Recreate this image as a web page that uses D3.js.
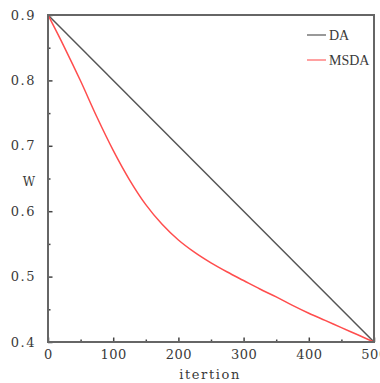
<!DOCTYPE html>
<html>
<head>
<meta charset="utf-8">
<script src="https://cdn.jsdelivr.net/npm/d3@7"></script>
<style>
  body { margin: 0; background: #fff; }
  svg text { fill: #3a3a3a; }
</style>
</head>
<body>
<figure id="chart" style="margin:0"></figure>
<script>
// data
const iterations = [0, 25, 50, 75, 100, 125, 150, 175, 200, 225, 250, 275, 300, 325, 350, 375, 400, 425, 450, 475, 500];
const msdaValues = [0.900, 0.851, 0.799, 0.744, 0.693, 0.648, 0.610, 0.580, 0.556, 0.537, 0.521, 0.507, 0.494, 0.481, 0.469, 0.456, 0.444, 0.433, 0.422, 0.411, 0.400];
const daIterations = [0, 500];
const daValues = [0.9, 0.4];
const xTicks = [0, 100, 200, 300, 400, 500];
const yTicks = [0.4, 0.5, 0.6, 0.7, 0.8, 0.9];
const seriesNames = ["DA", "MSDA"];
const seriesColors = ["#555555", "#ff4d4d"];

const width = 380, height = 383;
const margin = { top: 15, right: 6, bottom: 41, left: 48 };
const w = width - margin.left - margin.right;
const h = height - margin.top - margin.bottom;
const serif = "DejaVu Serif";

const svg = d3.select("#chart").append("svg")
  .attr("width", width)
  .attr("height", height);

const g = svg.append("g")
  .attr("transform", "translate(" + margin.left + "," + margin.top + ")");

const x = d3.scaleLinear().domain([0, 500]).range([0, w]);
const y = d3.scaleLinear().domain([0.4, 0.9]).range([h, 0]);

// minor ticks (inward)
g.append("g")
  .attr("transform", "translate(0," + h + ")")
  .call(d3.axisBottom(x).tickValues(d3.range(50, 500, 100)).tickSize(-2.5).tickFormat(""))
  .call(a => a.select(".domain").remove())
  .selectAll("line").attr("stroke", "#444").attr("stroke-width", 1.5);
g.append("g")
  .call(d3.axisLeft(y).tickValues([0.45, 0.55, 0.65, 0.75, 0.85]).tickSize(-2.5).tickFormat(""))
  .call(a => a.select(".domain").remove())
  .selectAll("line").attr("stroke", "#444").attr("stroke-width", 1.5);

// major ticks + labels
const xAxis = g.append("g")
  .attr("transform", "translate(0," + h + ")")
  .call(d3.axisBottom(x).tickValues(xTicks).tickSize(-4.5).tickPadding(17).tickFormat(d3.format("d")));
xAxis.select(".domain").remove();
xAxis.selectAll("line").attr("stroke", "#444").attr("stroke-width", 1.5);
xAxis.selectAll("text")
  .attr("font-family", serif).attr("font-size", 13)
  .style("letter-spacing", "0.5px").attr("dy", "0");

const yAxis = g.append("g")
  .call(d3.axisLeft(y).tickValues(yTicks).tickSize(-4.5).tickPadding(12).tickFormat(d3.format(".1f")));
yAxis.select(".domain").remove();
yAxis.selectAll("line").attr("stroke", "#444").attr("stroke-width", 1.5);
yAxis.selectAll("text")
  .attr("font-family", serif).attr("font-size", 13)
  .style("letter-spacing", "1.5px").attr("dy", "0.32em");

// lines
const line = d3.line().x(d => x(d[0])).y(d => y(d[1]));
g.append("path")
  .datum(daIterations.map((d, i) => [d, daValues[i]]))
  .attr("d", line)
  .attr("fill", "none")
  .attr("stroke", seriesColors[0])
  .attr("stroke-width", 1.5);
g.append("path")
  .datum(iterations.map((d, i) => [d, msdaValues[i]]))
  .attr("d", d3.line().curve(d3.curveMonotoneX).x(d => x(d[0])).y(d => y(d[1])))
  .attr("fill", "none")
  .attr("stroke", seriesColors[1])
  .attr("stroke-width", 1.5);

// frame
g.append("rect")
  .attr("width", w).attr("height", h)
  .attr("fill", "none")
  .attr("stroke", "#666")
  .attr("stroke-width", 2);

// axis titles
svg.append("text")
  .attr("x", margin.left + x(247) + 1)
  .attr("y", 379)
  .attr("text-anchor", "middle")
  .attr("font-family", serif)
  .attr("font-size", 13)
  .style("letter-spacing", "1.6px")
  .text("itertion");
svg.append("text")
  .attr("x", 29)
  .attr("y", 186)
  .attr("text-anchor", "middle")
  .attr("font-family", serif)
  .attr("font-size", 12)
  .text("W");

// legend
const legend = g.append("g")
  .attr("transform", "translate(" + (w - 67) + ",20)");
seriesNames.forEach((name, i) => {
  const row = legend.append("g").attr("transform", "translate(0," + i * 25 + ")");
  row.append("line")
    .attr("x1", 0).attr("x2", 19)
    .attr("stroke", seriesColors[i])
    .attr("stroke-opacity", i === 1 ? 0.7 : 0.8)
    .attr("stroke-width", 1.5);
  row.append("text")
    .attr("x", 22).attr("dy", "0.35em")
    .attr("font-family", "Liberation Serif")
    .attr("font-size", 14)
    .text(name);
});
</script>
</body>
</html>
